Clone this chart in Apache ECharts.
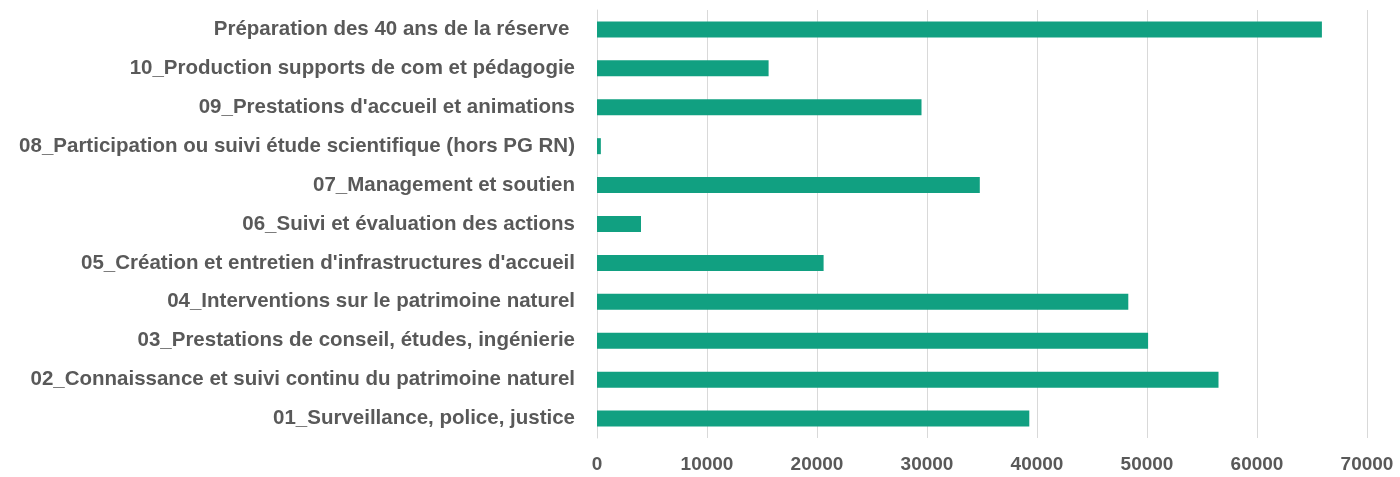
<!DOCTYPE html>
<html>
<head>
<meta charset="utf-8">
<script src="https://cdn.jsdelivr.net/npm/echarts@6/dist/echarts.min.js"></script>
<style>
  html, body { margin: 0; padding: 0; background: #fff; }
  #main { width: 1400px; height: 477px; }
</style>
</head>
<body>
<div id="main"></div>
<script>
// categories, bottom to top as in the chart
var categories = [
  '01_Surveillance, police, justice',
  '02_Connaissance et suivi continu du patrimoine naturel',
  '03_Prestations de conseil, études, ingénierie',
  '04_Interventions sur le patrimoine naturel',
  "05_Création et entretien d'infrastructures d'accueil",
  '06_Suivi et évaluation des actions',
  '07_Management et soutien',
  '08_Participation ou suivi étude scientifique (hors PG RN)',
  "09_Prestations d'accueil et animations",
  '10_Production supports de com et pédagogie',
  'Préparation des 40 ans de la réserve '
];
var values = [39300, 56500, 50100, 48300, 20600, 4000, 34800, 350, 29500, 15600, 65900];

var labelFont = '"Liberation Sans", Arial, sans-serif';

var myChart = echarts.init(document.getElementById('main'));
var option = {
  animation: false,
  grid: { left: 597, right: 33, top: 10, bottom: 39, containLabel: false },
  xAxis: {
    type: 'value',
    min: 0,
    max: 70000,
    interval: 10000,
    axisLine: { show: false },
    axisTick: { show: false },
    splitLine: { lineStyle: { color: '#d9d9d9', width: 1 } },
    axisLabel: {
      color: '#595959',
      fontSize: 19,
      fontWeight: 'bold',
      fontFamily: labelFont,
      margin: 17,
      formatter: function (v) { return String(v); }
    }
  },
  yAxis: {
    type: 'category',
    data: categories,
    axisLine: { show: true, lineStyle: { color: '#d9d9d9', width: 1 } },
    axisTick: { show: false },
    axisLabel: {
      color: '#595959',
      fontSize: 20.5,
      fontWeight: 'bold',
      fontFamily: labelFont,
      margin: 22
    }
  },
  series: [{
    type: 'bar',
    data: values,
    barWidth: 16,
    itemStyle: { color: '#11a081' }
  }]
};
myChart.setOption(option);
</script>
</body>
</html>
